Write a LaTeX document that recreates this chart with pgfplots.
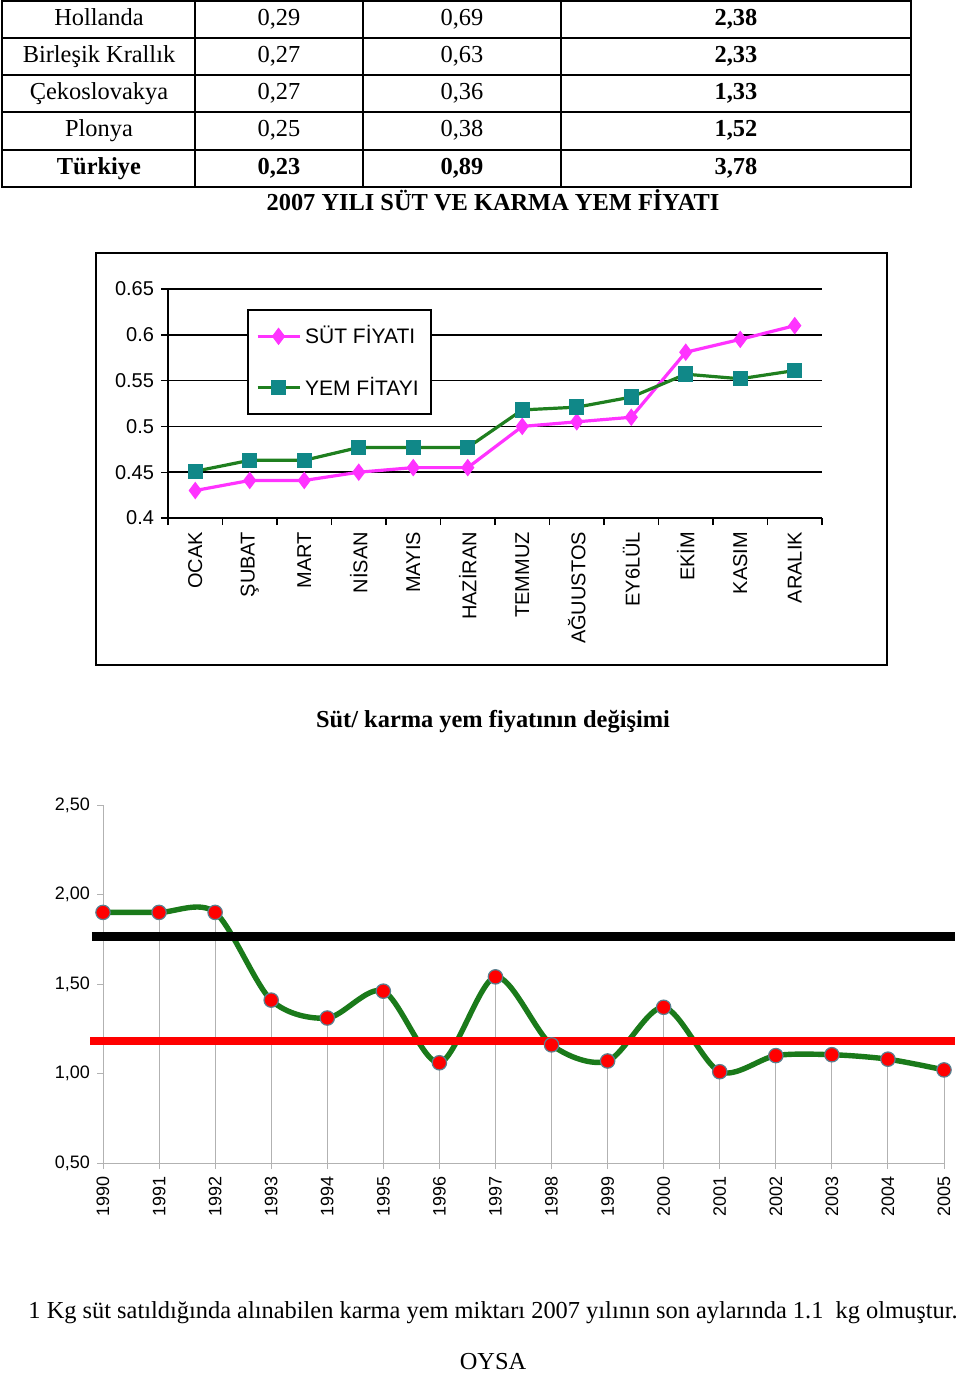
\documentclass[border=0pt]{standalone}
\usepackage{pgfplots}
\pgfplotsset{compat=1.18}
\usepackage{pgfplotstable}
\usepackage{fontspec}
\setmainfont{Liberation Serif}
\newfontfamily\arial{Liberation Sans}
\definecolor{sut}{HTML}{FF33FF}
\definecolor{yemline}{HTML}{1F7F1F}
\definecolor{yemmark}{HTML}{108888}
\definecolor{curve}{HTML}{1A7A1A}
\definecolor{medge}{HTML}{5A8090}

\pgfplotstableread{
i sut yem
0 0.430 0.451
1 0.441 0.463
2 0.441 0.463
3 0.450 0.477
4 0.455 0.477
5 0.455 0.477
6 0.500 0.518
7 0.505 0.521
8 0.510 0.532
9 0.581 0.557
10 0.595 0.552
11 0.610 0.561
}\monthdata

\pgfplotstableread{
year v
1990 1.90
1991 1.90
1992 1.90
1993 1.41
1994 1.31
1995 1.46
1996 1.06
1997 1.54
1998 1.16
1999 1.07
2000 1.37
2001 1.01
2002 1.10
2003 1.105
2004 1.08
2005 1.02
}\yeardata

\begin{document}
\begin{tikzpicture}
\begin{scope}[x=0.5pt,y=-0.5pt]
\useasboundingbox (0,0) rectangle (960,1375);
% table
\foreach \y in {38,75,112,150} \draw[line width=0.7pt] (2,\y) -- (911,\y);
\foreach \x in {195,363,561} \draw[line width=0.7pt] (\x,1) -- (\x,187);
\draw[line width=1.2pt] (2,1) rectangle (911,187);
\begin{scope}[every node/.style={anchor=base, font=\fontsize{12.2}{14}\selectfont}]
\node at (99,26) {Hollanda};
\node at (279,26) {0,29};
\node at (462,26) {0,69};
\node at (736,26) {\bfseries 2,38};
\node at (99,63) {Birleşik Krallık};
\node at (279,63) {0,27};
\node at (462,63) {0,63};
\node at (736,63) {\bfseries 2,33};
\node at (99,100) {Çekoslovakya};
\node at (279,100) {0,27};
\node at (462,100) {0,36};
\node at (736,100) {\bfseries 1,33};
\node at (99,137) {Plonya};
\node at (279,137) {0,25};
\node at (462,137) {0,38};
\node at (736,137) {\bfseries 1,52};
\node at (99,175) {\bfseries Türkiye};
\node at (279,175) {\bfseries 0,23};
\node at (462,175) {\bfseries 0,89};
\node at (736,175) {\bfseries 3,78};
\node at (493,211) {\bfseries 2007 YILI SÜT VE KARMA YEM FİYATI};
\node at (493,727) {\bfseries Süt/ karma yem fiyatının değişimi};
\node at (493,1318) {1 Kg süt satıldığında alınabilen karma yem miktarı 2007 yılının son aylarında 1.1\ \ kg olmuştur.};
\node at (493,1369) {OYSA};
\end{scope}
\draw[line width=0.9pt] (96,253) rectangle (887,665);
\end{scope}

\begin{axis}[
  at={(84pt,-259pt)}, anchor=south west,
  scale only axis, width=327pt, height=114.5pt,
  xmin=-0.5, xmax=11.5, ymin=0.4, ymax=0.65,
  axis x line*=bottom, axis y line*=left,
  axis line style={black, line width=0.8pt, -},
  xtick={-0.5,0.5,1.5,2.5,3.5,4.5,5.5,6.5,7.5,8.5,9.5,10.5,11.5},
  x tick label as interval,
  xticklabels={OCAK,ŞUBAT,MART,NİSAN,MAYIS,HAZİRAN,TEMMUZ,AĞUUSTOS,EY6LÜL,EKİM,KASIM,ARALIK},
  xticklabel style={rotate=90, anchor=east, font=\arial\fontsize{10}{12}\selectfont},
  ytick={0.4,0.45,0.5,0.55,0.6,0.65},
  yticklabels={0.4,0.45,0.5,0.55,0.6,0.65},
  yticklabel style={font=\arial\fontsize{10}{12}\selectfont},
  ymajorgrids, grid style={black, line width=0.8pt},
  tick align=outside, major tick length=3.5pt,
  tick style={black, line width=0.7pt},
  legend style={at={(0.121,0.913)}, anchor=north west, draw=black, line width=0.8pt,
    fill=white, font=\arial\fontsize{10.5}{12}\selectfont, row sep=11pt,
    inner xsep=4pt, inner ysep=6pt, cells={anchor=west}},
  legend cell align=left,
  legend image code/.code={\draw[mark repeat=2,mark phase=2,#1] plot coordinates {(0pt,0pt) (10.5pt,0pt) (21pt,0pt)};},
]
\addplot[sut, line width=1.6pt, mark=diamond*, mark size=4pt, mark options={fill=sut, draw=sut, line width=0.5pt}] table[x=i,y=sut]{\monthdata};
\addlegendentry{SÜT FİYATI}
\addplot[yemline, line width=1.6pt, mark=square*, mark size=3.6pt, mark options={fill=yemmark, draw=yemmark, line width=0.5pt}] table[x=i,y=yem]{\monthdata};
\addlegendentry{YEM FİTAYI}
\end{axis}

\begin{axis}[
  at={(51.5pt,-581.5pt)}, anchor=south west,
  scale only axis, width=420.5pt, height=179pt,
  xmin=1990, xmax=2005, ymin=0.5, ymax=2.5, clip=false,
  axis x line*=bottom, axis y line*=left,
  axis line style={gray!60, line width=0.5pt, -},
  xtick={1990,1991,1992,1993,1994,1995,1996,1997,1998,1999,2000,2001,2002,2003,2004,2005},
  xticklabels={1990,1991,1992,1993,1994,1995,1996,1997,1998,1999,2000,2001,2002,2003,2004,2005},
  xticklabel style={rotate=90, anchor=east, font=\arial\fontsize{9}{11}\selectfont},
  ytick={0.5,1,1.5,2,2.5},
  yticklabels={{0,50},{1,00},{1,50},{2,00},{2,50}},
  yticklabel style={font=\arial\fontsize{9}{11}\selectfont},
  tick align=outside, major tick length=3pt,
  tick style={gray!60, line width=0.5pt},
]
\addplot[only marks, mark=none, gray!60, forget plot, error bars/.cd, y dir=minus, y explicit, error mark=none, error bar style={gray!60, line width=0.5pt}] table[x=year, y=v, y error expr=\thisrow{v}-0.5]{\yeardata};
\addplot[curve, line width=2.7pt, smooth, tension=0.5] table[x=year,y=v]{\yeardata};
\addplot[only marks, mark=*, mark size=3.6pt, mark options={fill=red, draw=medge, line width=0.6pt}] table[x=year,y=v]{\yeardata};
\addplot[black, line width=4.5pt] coordinates {(1989.80,1.765) (2005.2,1.765)};
\addplot[red, line width=4pt] coordinates {(1989.77,1.182) (2005.2,1.182)};
\end{axis}
\end{tikzpicture}
\end{document}
